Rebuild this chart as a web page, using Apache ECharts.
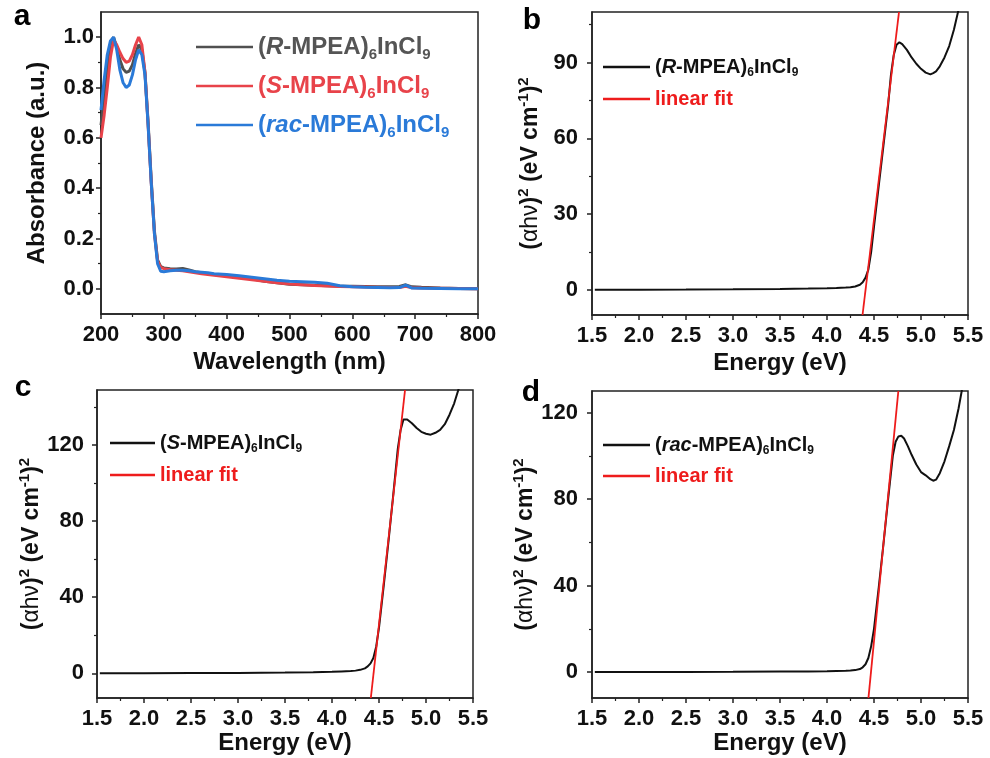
<!DOCTYPE html>
<html><head><meta charset="utf-8">
<script src="https://cdn.jsdelivr.net/npm/echarts@6/dist/echarts.min.js"></script>
<style>html,body{margin:0;padding:0;background:#fff}#c{width:990px;height:758px}</style>
</head><body><div id="c"></div>
<script>
const FONT = 'Liberation Sans, Arial, sans-serif';

// ---------- panel a: absorbance ----------
const wavelength = [200,205,210,215,220,225,230,235,240,245,250,255,260,265,270,275,280,285,290,295,300,310,320,330,340,350,360,370,380,400,420,440,460,480,500,520,540,560,580,600,620,640,660,675,685,695,710,740,770,800];
const absR   = [0.65,0.76,0.88,0.97,1.00,0.96,0.91,0.875,0.86,0.865,0.89,0.935,0.97,0.95,0.86,0.66,0.43,0.23,0.115,0.088,0.083,0.080,0.079,0.081,0.075,0.068,0.064,0.060,0.057,0.052,0.046,0.040,0.030,0.024,0.018,0.016,0.014,0.012,0.010,0.010,0.009,0.008,0.008,0.009,0.016,0.008,0.006,0.003,0.001,0.0];
const absS   = [0.60,0.69,0.80,0.92,0.99,0.97,0.94,0.915,0.90,0.905,0.93,0.97,1.00,0.97,0.86,0.65,0.42,0.22,0.11,0.085,0.080,0.076,0.074,0.072,0.068,0.064,0.060,0.057,0.054,0.048,0.042,0.036,0.030,0.024,0.019,0.016,0.013,0.011,0.009,0.008,0.007,0.006,0.005,0.005,0.010,0.004,0.003,0.002,0.001,0.0];
const absRac = [0.71,0.83,0.93,0.985,1.00,0.95,0.87,0.82,0.80,0.81,0.85,0.91,0.95,0.93,0.85,0.65,0.42,0.22,0.10,0.07,0.068,0.072,0.074,0.074,0.072,0.068,0.066,0.064,0.060,0.057,0.052,0.046,0.040,0.034,0.030,0.028,0.026,0.022,0.012,0.008,0.006,0.005,0.004,0.005,0.015,0.003,0.002,0.001,0.0,0.0];

// ---------- panel b: R Tauc ----------
const energyR = [1.53,2.0,2.5,3.0,3.5,3.8,4.0,4.1,4.2,4.25,4.3,4.35,4.38,4.41,4.44,4.47,4.5,4.55,4.6,4.65,4.68,4.71,4.74,4.77,4.8,4.85,4.9,4.95,5.0,5.05,5.1,5.13,5.16,5.2,5.25,5.3,5.35,5.4,5.45];
const taucR   = [0,0,0.05,0.15,0.3,0.45,0.6,0.7,0.85,1.0,1.3,2.0,3.0,4.8,8,15,25,41,57,73,85,93,97,98,97.3,95,92,89.5,87.5,86,85.3,85.8,86.5,88.5,92,96.5,103,111,122];
const fitEnergyR = [4.378, 4.766];
const fitValueR  = [-10, 110];

// ---------- panel c: S Tauc ----------
const energyS = [1.53,2.0,2.5,3.0,3.5,3.8,4.0,4.1,4.2,4.25,4.3,4.35,4.38,4.41,4.44,4.47,4.5,4.55,4.6,4.65,4.7,4.73,4.76,4.8,4.85,4.9,4.95,5.0,5.05,5.1,5.15,5.2,5.25,5.3,5.35,5.4];
const taucS   = [0,0,0.1,0.2,0.4,0.6,0.8,1.0,1.2,1.4,1.8,2.6,3.6,5.2,8,14,24,46,69,93,118,128,133.5,133.5,131.5,129,127,126,125.5,126.5,128,131,136,142,150,160];
const fitEnergyS = [4.413, 4.777];
const fitValueS  = [-13, 149];

// ---------- panel d: rac Tauc ----------
const energyRac = [1.53,2.0,2.5,3.0,3.5,3.8,4.0,4.1,4.2,4.25,4.3,4.35,4.38,4.41,4.44,4.47,4.5,4.55,4.6,4.65,4.7,4.73,4.76,4.79,4.82,4.86,4.9,4.95,5.0,5.05,5.1,5.13,5.16,5.2,5.25,5.3,5.35,5.4,5.45];
const taucRac   = [0,0,0.05,0.1,0.2,0.3,0.4,0.5,0.6,0.7,0.9,1.4,2.2,3.6,6.5,12,20,39,59,80,100,106.5,109,109.3,108,104.5,100.5,96,92.5,91,89.2,88.5,89,92,97.5,104.5,112,122,134];
const fitEnergyRac = [4.441, 4.759];
const fitValueRac  = [-12, 130];

// ---------- ticks ----------
const ticksWl  = [200,300,400,500,600,700,800];
const minorWl  = [250,350,450,550,650,750];
const ticksAbs = [0,0.2,0.4,0.6,0.8,1.0];
const minorAbs = [0.1,0.3,0.5,0.7,0.9];
const ticksE   = [1.5,2.0,2.5,3.0,3.5,4.0,4.5,5.0,5.5];
const minorE   = [1.75,2.25,2.75,3.25,3.75,4.25,4.75,5.25];
const ticksB   = [0,30,60,90];
const minorB   = [15,45,75,105];
const ticksC   = [0,40,80,120];
const minorC   = [20,60,100,140];
const ticksD   = [0,40,80,120];
const minorD   = [20,60,100];

const zip = (xs, ys) => xs.map((x, i) => [x, ys[i]]);
const AX = '#222';

function axisPair(dim, grid, min, max, majors, minors, fmt, name, nameGap, nameStyle, labelMargin) {
  const base = {
    type: 'value', gridIndex: grid, min: min, max: max,
    position: dim === 'x' ? 'bottom' : 'left',
    splitLine: {show: false}, minorTick: {show: false}, minorSplitLine: {show: false}
  };
  const main = Object.assign({}, base, {
    axisLine: {show: true, onZero: false, lineStyle: {color: AX, width: 1.5}},
    axisTick: {show: true, inside: false, length: 5, customValues: majors, lineStyle: {color: AX, width: 1.5}},
    axisLabel: {show: true, customValues: majors, formatter: fmt, fontSize: 22, fontWeight: 'bold',
      color: '#111', fontFamily: FONT, margin: labelMargin},
    name: name, nameLocation: 'middle', nameGap: nameGap, nameRotate: dim === 'y' ? 90 : 0,
    nameTextStyle: nameStyle
  });
  const minor = Object.assign({}, base, {
    axisLine: {show: false, onZero: false},
    axisTick: {show: true, inside: false, length: 3, customValues: minors, lineStyle: {color: AX, width: 1.2}},
    axisLabel: {show: false}
  });
  return [main, minor];
}

const nameStyleX = {fontSize: 24, fontWeight: 'bold', color: '#111', fontFamily: FONT};
const tauName = '{m|(}{g|αhν}{m|)}{u|2}{m| (eV cm}{u|-1}{m|)}{u|2}';
const nameStyleTauc = {
  fontSize: 23, fontWeight: 'bold', color: '#111', fontFamily: FONT,
  rich: {
    m: {fontSize: 23, fontWeight: 'bold', fontFamily: FONT, color: '#111', lineHeight: 30},
    g: {fontSize: 23, fontWeight: 'normal', fontFamily: FONT, color: '#111', lineHeight: 30},
    u: {fontSize: 15, fontWeight: 'bold', fontFamily: FONT, color: '#111', lineHeight: 15, verticalAlign: 'top'}
  }
};

const f1 = v => v.toFixed(1);
const f0 = v => String(Math.round(v));

const xa = axisPair('x', 0, 200, 800, ticksWl, minorWl, f0, 'Wavelength (nm)', 36, nameStyleX, 10);
const ya = axisPair('y', 0, -0.1, 1.1, ticksAbs, minorAbs, f1, 'Absorbance (a.u.)', 52, nameStyleX, 7);
const xb = axisPair('x', 1, 1.5, 5.5, ticksE, minorE, f1, 'Energy (eV)', 36, nameStyleX, 10);
const yb = axisPair('y', 1, -10, 110, ticksB, minorB, f0, tauName, 46, nameStyleTauc, 14);
const xc = axisPair('x', 2, 1.5, 5.5, ticksE, minorE, f1, 'Energy (eV)', 32, nameStyleX, 10);
const yc = axisPair('y', 2, -13, 149, ticksC, minorC, f0, tauName, 48, nameStyleTauc, 13);
const xd = axisPair('x', 3, 1.5, 5.5, ticksE, minorE, f1, 'Energy (eV)', 32, nameStyleX, 10);
const yd = axisPair('y', 3, -12, 130, ticksD, minorD, f0, tauName, 46, nameStyleTauc, 14);

const xAxes = [].concat(xa, xb, xc, xd);
const yAxes = [].concat(ya, yb, yc, yd);

function lineSeries(name, xi, yi, data, color, width, z) {
  return {
    name: name, type: 'line', xAxisIndex: xi, yAxisIndex: yi, data: data,
    showSymbol: false, symbol: 'none', clip: true, z: z || 2, smooth: false,
    lineStyle: {color: color, width: width}, itemStyle: {color: color},
    emphasis: {disabled: true}
  };
}

const C_R = '#505050', C_S = '#e8434a', C_RAC = '#2a7ad8', C_K = '#111111', C_FIT = '#ee1c1c';

const series = [
  lineSeries('R_a', 0, 0, zip(wavelength, absR), C_R, 3, 2),
  lineSeries('S_a', 0, 0, zip(wavelength, absS), C_S, 3, 3),
  lineSeries('rac_a', 0, 0, zip(wavelength, absRac), C_RAC, 3, 4),
  lineSeries('R_b', 2, 2, zip(energyR, taucR), C_K, 2, 2),
  lineSeries('fit_b', 2, 2, zip(fitEnergyR, fitValueR), C_FIT, 1.8, 3),
  lineSeries('S_c', 4, 4, zip(energyS, taucS), C_K, 2, 2),
  lineSeries('fit_c', 4, 4, zip(fitEnergyS, fitValueS), C_FIT, 1.8, 3),
  lineSeries('rac_d', 6, 6, zip(energyRac, taucRac), C_K, 2, 2),
  lineSeries('fit_d', 6, 6, zip(fitEnergyRac, fitValueRac), C_FIT, 1.8, 3)
];

function chem(it, k) {
  return '{p' + k + '|(}{i' + k + '|' + it + '}{p' + k + '|-MPEA)}{s' + k + '|6}{p' + k + '|InCl}{s' + k + '|9}';
}
function richFor(colors, size, subSize, lh) {
  const r = {};
  Object.keys(colors).forEach(k => {
    const c = colors[k];
    r['p' + k] = {fontSize: size, fontWeight: 'bold', fontFamily: FONT, color: c, lineHeight: lh};
    r['i' + k] = {fontSize: size, fontWeight: 'bold', fontStyle: 'italic', fontFamily: FONT, color: c, lineHeight: lh};
    r['s' + k] = {fontSize: subSize, fontWeight: 'bold', fontFamily: FONT, color: c, lineHeight: subSize, verticalAlign: 'bottom'};
  });
  return r;
}
const legendLabels = {
  R_a: chem('R', 'g'), S_a: chem('S', 'r'), rac_a: chem('rac', 'b'),
  R_b: chem('R', 'k'), S_c: chem('S', 'k'), rac_d: chem('rac', 'k'),
  fit_b: '{pf|linear fit}', fit_c: '{pf|linear fit}', fit_d: '{pf|linear fit}'
};
const richA = richFor({g: '#555555', r: '#e8434a', b: '#2a7ad8'}, 24, 15, 30);
const richT = richFor({k: '#111111', f: '#ee1c1c'}, 20, 12, 24);

function legend(data, left, top, width, gap, rich) {
  return {
    data: data, left: left, top: top, orient: 'vertical', icon: 'rect',
    itemWidth: width, itemHeight: 2.5, itemGap: gap, selectedMode: false, padding: 0,
    formatter: n => legendLabels[n],
    textStyle: {rich: rich, fontFamily: FONT}
  };
}

const option = {
  animation: false,
  backgroundColor: '#ffffff',
  grid: [
    {left: 101, top: 12, width: 377, height: 302},
    {left: 592, top: 12, width: 376, height: 303},
    {left: 97, top: 390, width: 376, height: 308},
    {left: 592, top: 391, width: 376, height: 307}
  ].map(g => Object.assign(g, {show: true, borderColor: AX, borderWidth: 1.5, backgroundColor: 'transparent'})),
  xAxis: xAxes,
  yAxis: yAxes,
  legend: [
    legend(['R_a', 'S_a', 'rac_a'], 196, 35, 57, 12, richA),
    legend(['R_b', 'fit_b'], 603, 57, 47, 10, richT),
    legend(['S_c', 'fit_c'], 110, 433, 45, 10, richT),
    legend(['rac_d', 'fit_d'], 603, 435, 47, 9, richT)
  ],
  graphic: [
    {type: 'text', x: 22, y: 17, style: {text: 'a', font: 'bold 30px ' + FONT, fill: '#000', align: 'center', verticalAlign: 'middle', textAlign: 'center', textVerticalAlign: 'middle'}},
    {type: 'text', x: 532, y: 21, style: {text: 'b', font: 'bold 30px ' + FONT, fill: '#000', align: 'center', verticalAlign: 'middle', textAlign: 'center', textVerticalAlign: 'middle'}},
    {type: 'text', x: 23, y: 388, style: {text: 'c', font: 'bold 30px ' + FONT, fill: '#000', align: 'center', verticalAlign: 'middle', textAlign: 'center', textVerticalAlign: 'middle'}},
    {type: 'text', x: 531, y: 393, style: {text: 'd', font: 'bold 30px ' + FONT, fill: '#000', align: 'center', verticalAlign: 'middle', textAlign: 'center', textVerticalAlign: 'middle'}}
  ],
  series: series
};

const chart = echarts.init(document.getElementById('c'), null, {renderer: 'canvas'});
chart.setOption(option);
</script>
</body></html>
